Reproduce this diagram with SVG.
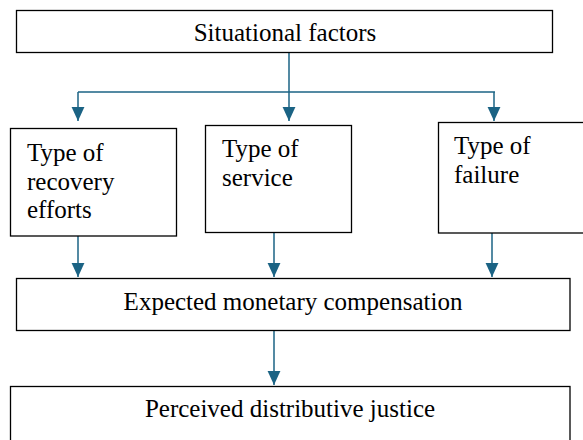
<svg xmlns="http://www.w3.org/2000/svg" width="583" height="440" viewBox="0 0 583 440">
<style>
.box{fill:#fff;stroke:#000;stroke-width:1.3}
.c{fill:none;stroke:#1b6384;stroke-width:1.5}
.t{font-family:'Liberation Serif','Times New Roman',Times,serif;font-size:25px;fill:#000}
</style>
<defs>
<marker id="ah" markerUnits="userSpaceOnUse" markerWidth="14" markerHeight="14" viewBox="0 0 12 11" refX="12" refY="5.5" orient="auto">
<path d="M0,0 L12,5.5 L0,11 Z" fill="#1b6384"/>
</marker>
</defs>
<rect width="583" height="440" fill="#fff"/>
<g id="connectors">
<path class="c" d="M289,53 V92"/>
<path class="c" d="M78,92 H495"/>
<path class="c" d="M78,92 V121" marker-end="url(#ah)"/>
<path class="c" d="M289,92 V121" marker-end="url(#ah)"/>
<path class="c" d="M494,92 V121" marker-end="url(#ah)"/>
<path class="c" d="M78,236 V277" marker-end="url(#ah)"/>
<path class="c" d="M274,233 V277" marker-end="url(#ah)"/>
<path class="c" d="M492,233 V277" marker-end="url(#ah)"/>
<path class="c" d="M274,331 V385" marker-end="url(#ah)"/>
</g>
<g id="situational">
<rect class="box" x="16.5" y="10.5" width="536" height="42"/>
<text class="t" x="285" y="41" text-anchor="middle">Situational factors</text>
</g>
<g id="recovery">
<rect class="box" x="10.5" y="128.5" width="166" height="107.5"/>
<text class="t" x="27" y="161">Type of</text>
<text class="t" x="27" y="189.5">recovery</text>
<text class="t" x="27" y="218">efforts</text>
</g>
<g id="service">
<rect class="box" x="205.5" y="125.5" width="146" height="107"/>
<text class="t" x="222" y="157">Type of</text>
<text class="t" x="222" y="186">service</text>
</g>
<g id="failure">
<rect class="box" x="438.5" y="122.5" width="150" height="110.5"/>
<text class="t" x="454" y="154">Type of</text>
<text class="t" x="454" y="183">failure</text>
</g>
<g id="expected">
<rect class="box" x="16.5" y="278.5" width="553.5" height="52"/>
<text class="t" x="293" y="310" text-anchor="middle">Expected monetary compensation</text>
</g>
<g id="perceived">
<rect class="box" x="10.5" y="386.5" width="559.5" height="60"/>
<text class="t" x="290" y="417" text-anchor="middle">Perceived distributive justice</text>
</g>
</svg>
